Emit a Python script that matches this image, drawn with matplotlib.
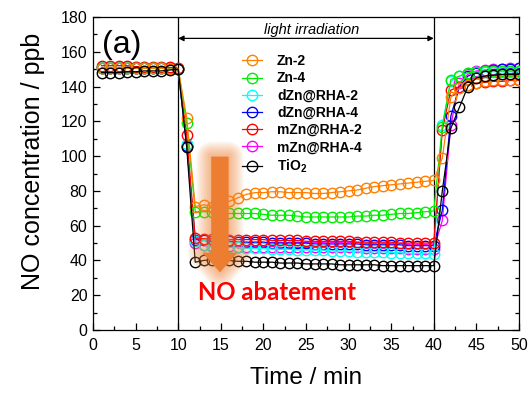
import numpy as np
import matplotlib
matplotlib.use("Agg")
import matplotlib.pyplot as plt
from matplotlib.patches import Polygon
from matplotlib.ticker import MultipleLocator

plt.rcParams['font.family'] = ['Liberation Sans', 'DejaVu Sans']
plt.rcParams['mathtext.fontset'] = 'custom'
plt.rcParams['mathtext.rm'] = 'Liberation Sans'
plt.rcParams['mathtext.bf'] = 'Liberation Sans:bold'

time = list(range(1, 51))

zn2 = [150.5]*8 + [150, 150] + [122] + \
      [71, 72, 71, 72, 74, 76, 78, 79, 79, 79.5,
       79.5, 79, 79, 79, 78.5, 78.5, 79, 79.5, 80, 80.5,
       81.5, 82.5, 83, 83.5, 84, 84.5, 85, 85.5, 86] + \
      [99, 134, 139, 141, 142, 143, 143.5, 144, 144, 144]
zn4 = [150.5]*8 + [150, 150] + [119] + \
      [68, 68, 68, 67.5, 67, 67, 67, 67, 66.5, 66,
       66, 66, 65.5, 65, 65, 65, 65, 65, 65, 65.5,
       65.5, 66, 66, 66.5, 67, 67, 67.5, 68, 68.5] + \
      [117, 144, 146, 148, 148.5, 149, 149, 149, 149, 149]
dzn2 = [151]*6 + [150.5]*3 + [150] + [107] + \
       [51, 49, 48, 48, 47.5, 47.5, 47, 47, 47, 46.5,
        46.5, 46.5, 46, 46, 46, 46, 45.5, 45.5, 45.5, 45,
        45, 45, 45, 44.5, 44.5, 44, 44, 44, 43.5] + \
       [118, 143, 146, 148, 148.5, 148.5, 148.5, 148.5, 148.5, 148.5]
dzn4 = [150.5]*9 + [150] + [106] + \
       [52, 51.5, 51, 51, 51, 50.5, 50.5, 50.5, 50.5, 50,
        50, 50, 50, 50, 49.5, 49.5, 49.5, 49.5, 49.5, 49.5,
        49, 49, 49, 49, 49, 48.5, 48.5, 48.5, 48.5] + \
       [69, 123, 140, 146, 148, 149, 149.5, 150, 150, 150.5]
mzn2 = [152, 152, 152, 152, 151.5, 151.5, 151.5, 151, 151, 150.5] + [112] + \
       [53, 52.5, 52.5, 52, 52, 52, 52, 52, 52, 51.5,
        51.5, 51.5, 51.5, 51, 51, 51, 51, 51, 51, 50.5,
        50.5, 50.5, 50.5, 50.5, 50, 50, 50, 50, 50] + \
       [115, 138, 140, 141, 142, 142.5, 143, 143, 143.5, 143.5]
mzn4 = [150.5]*9 + [150] + [106] + \
       [50, 49, 48.5, 48.5, 48.5, 48, 48, 48, 48, 48,
        47.5, 47.5, 47.5, 47.5, 47.5, 47.5, 47.5, 47.5, 47.5, 47.5,
        47, 47, 47, 47, 47, 46.5, 46.5, 46.5, 46.5] + \
       [63, 118, 142, 147, 149, 149.5, 150, 150, 150.5, 150.5]
tio2 = [148, 148, 148, 148.5, 148.5, 149, 149, 149, 149.5, 150] + [105] + \
       [39, 40, 40.5, 40, 40, 39.5, 39.5, 39, 39, 39,
        38.5, 38.5, 38.5, 38, 38, 38, 38, 37.5, 37.5, 37.5,
        37.5, 37.5, 37, 37, 37, 37, 37, 37, 37] + \
       [80, 116, 128, 140, 145, 146, 146.5, 147, 147, 147]

labels = ['Zn-2', 'Zn-4', 'dZn@RHA-2', 'dZn@RHA-4', 'mZn@RHA-2', 'mZn@RHA-4', 'TiO$_\\mathbf{2}$']
series = [zn2, zn4, dzn2, dzn4, mzn2, mzn4, tio2]
colors = ['#FF8000', '#00EE00', '#00FFFF', '#0000FF', '#FF0000', '#FF00FF', '#000000']
zorders = [7, 6, 4, 3, 5, 2, 8]

fig = plt.figure(figsize=(5.31, 3.94), dpi=100)
ax = fig.add_axes([93/531, 1-330/394, 426/531, 313/394])

handles = []
for y, lab, c, z in zip(series, labels, colors, zorders):
    h, = ax.plot(time, y, '-o', color=c, mfc='none', mec=c, ms=7.5, mew=1.0,
                 lw=0.9, label=lab, zorder=z)
    handles.append(h)

ax.set_xlim(0, 50)
ax.set_ylim(0, 180)
ax.xaxis.set_major_locator(MultipleLocator(5))
ax.xaxis.set_minor_locator(MultipleLocator(2.5))
ax.yaxis.set_major_locator(MultipleLocator(20))
ax.yaxis.set_minor_locator(MultipleLocator(10))
ax.tick_params(which='both', direction='in', top=False, right=True, labelsize=11.5, width=0.9)
ax.tick_params(which='major', length=5, pad=4)
ax.tick_params(which='minor', length=3)
ax.tick_params(axis='x', which='major', pad=6)
for s in ax.spines.values():
    s.set_linewidth(0.9)

ax.set_xlabel('Time / min', fontsize=17.5, labelpad=10)
ax.set_ylabel('NO concentration / ppb', fontsize=18, labelpad=2)
ax.yaxis.set_label_coords(-0.113, 0.538)

ax.axvline(10, color='black', lw=0.9, zorder=1)
ax.axvline(40, color='black', lw=0.9, zorder=1)
ax.annotate('', xy=(10, 167.7), xytext=(40, 167.7),
            arrowprops=dict(arrowstyle='<|-|>', color='black', lw=0.9,
                            mutation_scale=8, shrinkA=0, shrinkB=0))
ax.text(25.7, 172.5, 'light irradiation', style='italic', fontsize=10.5,
        ha='center', va='center')
ax.text(1.0, 164, '(a)', fontsize=23, ha='left', va='center')

# big orange arrow with glow
arrow_xy = [(13.92, 99.5), (15.87, 99.5), (15.87, 44.3), (16.87, 44.3),
            (14.9, 33.5), (12.93, 44.3), (13.92, 44.3)]
for lw in np.linspace(22, 2, 10):
    ax.add_patch(Polygon(arrow_xy, closed=True, facecolor='none', edgecolor='#F08030',
                         lw=lw, alpha=0.07, joinstyle='round', zorder=9))
ax.add_patch(Polygon(arrow_xy, closed=True, facecolor='#ED7D31', edgecolor='#ED7D31',
                     lw=0.5, zorder=10))

ax.text(21.6, 21.3, 'NO abatement', color='#FF0000', fontsize=17.2, fontweight='bold',
        family=['Lato', 'DejaVu Sans'], ha='center', va='center', zorder=11)

leg = ax.legend(handles=handles, loc='upper left', bbox_to_anchor=(0.349, 0.881),
                frameon=False, prop={'weight': 'bold', 'size': 10},
                handlelength=1.45, handletextpad=1.1, labelspacing=0.23,
                borderpad=0, borderaxespad=0)

fig.savefig('out.png', dpi=100)
